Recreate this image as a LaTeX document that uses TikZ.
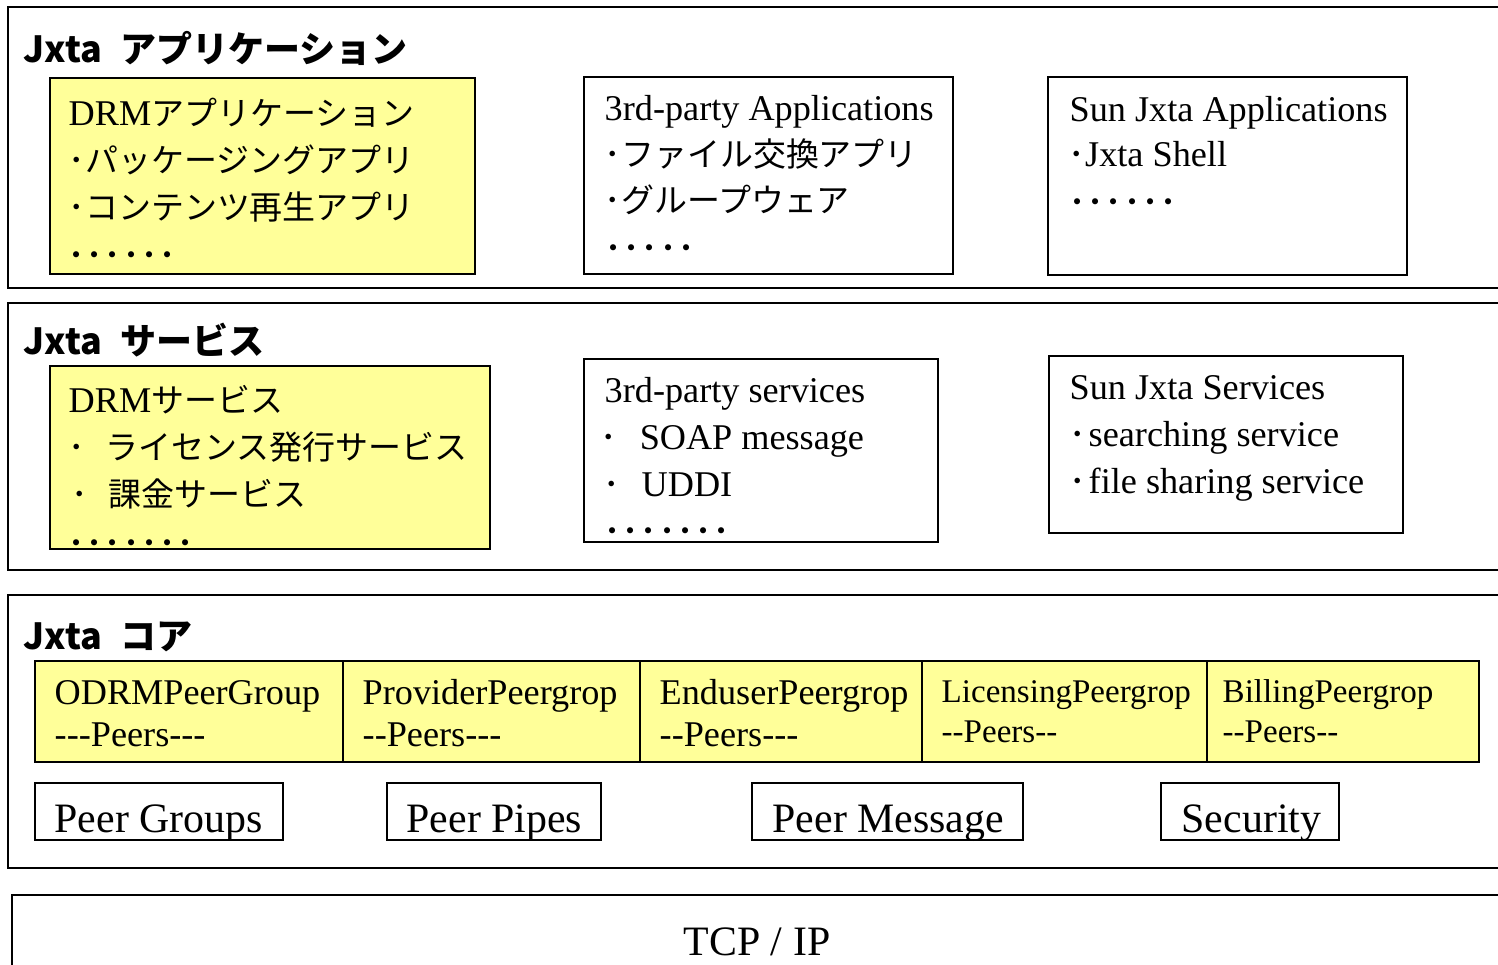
\documentclass[tikz,border=0pt]{standalone}
\usepackage{fontspec}
\setmainfont{Liberation Serif}[Ligatures=TeXOff]
\newfontfamily\jp{Noto Sans CJK JP}[Scale=0.91]
\newfontfamily\jph{Noto Sans CJK JP}
\definecolor{drm}{RGB}{255,255,153}
\tikzset{
  box/.style={draw, line width=0.8pt},
  ybox/.style={box, fill=drm},
  txt/.style={anchor=base west, inner sep=0pt, font=\fontsize{10.3}{12}\selectfont},
  stxt/.style={txt, font=\fontsize{9.4}{11}\selectfont},
  btxt/.style={txt, font=\fontsize{11.9}{14}\selectfont},
  head/.style={txt, font=\jph\bfseries\fontsize{10.24}{12}\selectfont},
}

\begin{document}
\begin{tikzpicture}[x=0.01cm, y=-0.01cm]
\useasboundingbox (0,0) rectangle (1498,965);

% layers
\draw[box] (8,7) rectangle (1520,288);
\draw[box] (8,303) rectangle (1520,570);
\draw[box] (8,595) rectangle (1520,868);
\draw[box] (12,895) rectangle (1520,990);

% applications
\node[head] (apphead) at (23,63) {Jxta\hspace{0.5em}アプリケーション};
\draw[ybox] (50,78) rectangle (475,274);
\node[txt] (drmapp) at (68,126) {DRM{\jp アプリケーション}};
\node[txt] (drmapp1) at (68,173) {\jp ･パッケージングアプリ};
\node[txt] (drmapp2) at (68,220) {\jp ･コンテンツ再生アプリ};
\node[txt] (drmapp3) at (67,269) {\jph ･･････};
\draw[box] (584,77) rectangle (953,274);
\node[txt] (app3) at (604,121) {3rd-party Applications};
\node[txt] (app31) at (604,167) {\jp ･ファイル交換アプリ};
\node[txt] (app32) at (604,213) {\jp ･グループウェア};
\node[txt] (app33) at (604,262) {\jph ･････};
\draw[box] (1048,77) rectangle (1407,275);
\node[txt] (sunapp) at (1069,122) {Sun Jxta Applications};
\node[txt] (sunapp1) at (1068,167) {{\jp ･}Jxta Shell};
\node[txt] (sunapp2) at (1068,216) {\jph ･･････};

% services
\node[head] (srvhead) at (23,355) {Jxta\hspace{0.5em}サービス};
\draw[ybox] (50,366) rectangle (490,549);
\node[txt] (drmsrv) at (68,413) {DRM{\jp サービス}};
\node[txt] (drmsrv1) at (68,460) {\jp\makebox[10.5pt][l]{･}ライセンス発行サービス};
\node[txt] (drmsrv2) at (71,507) {\jp\makebox[10.5pt][l]{･}課金サービス};
\node[txt] (drmsrv3) at (67,557) {\jph ･･･････};
\draw[box] (584,359) rectangle (938,542);
\node[txt] (srv3) at (604,403) {3rd-party services};
\node[txt] (srv31) at (600,450) {\makebox[11.1pt][l]{\jp ･}SOAP message};
\node[txt] (srv32) at (603,497) {\makebox[10.8pt][l]{\jp ･}UDDI};
\node[txt] (srv33) at (603,545) {\jph ･･･････};
\draw[box] (1049,356) rectangle (1403,533);
\node[txt] (sunsrv) at (1069,400) {Sun Jxta Services};
\node[txt] (sunsrv1) at (1069,447) {\makebox[5.4pt][l]{\jp ･}searching service};
\node[txt] (sunsrv2) at (1069,494) {\makebox[5.4pt][l]{\jp ･}file sharing service};

% core
\node[head] (corehead) at (23,650) {Jxta\hspace{0.5em}コア};
\draw[ybox] (35,661) rectangle (343,762);
\draw[ybox] (343,661) rectangle (640,762);
\draw[ybox] (640,661) rectangle (922,762);
\draw[ybox] (922,661) rectangle (1207,762);
\draw[ybox] (1207,661) rectangle (1479,762);
\node[txt] (odrm) at (54,705) {ODRMPeerGroup};
\node[txt] (odrmp) at (54,747) {---Peers---};
\node[txt] (prov) at (362,705) {ProviderPeergrop};
\node[txt] (provp) at (362,747) {--Peers---};
\node[txt] (endu) at (659,705) {EnduserPeergrop};
\node[txt] (endup) at (659,747) {--Peers---};
\node[stxt] (lic) at (941,703) {LicensingPeergrop};
\node[stxt] (licp) at (941,742) {--Peers--};
\node[stxt] (bill) at (1222,703) {BillingPeergrop};
\node[stxt] (billp) at (1222,742) {--Peers--};
\draw[box] (35,783) rectangle (283,840);
\node[btxt] (groups) at (54,832) {Peer Groups};
\draw[box] (387,783) rectangle (601,840);
\node[btxt] (pipes) at (406,832) {Peer Pipes};
\draw[box] (752,783) rectangle (1023,840);
\node[btxt] (message) at (772,832) {Peer Message};
\draw[box] (1161,783) rectangle (1339,840);
\node[btxt] (security) at (1181,832) {Security};

% tcp/ip
\node[btxt, anchor=base] (tcp) at (757,955) {TCP / IP};
\end{tikzpicture}
\end{document}
